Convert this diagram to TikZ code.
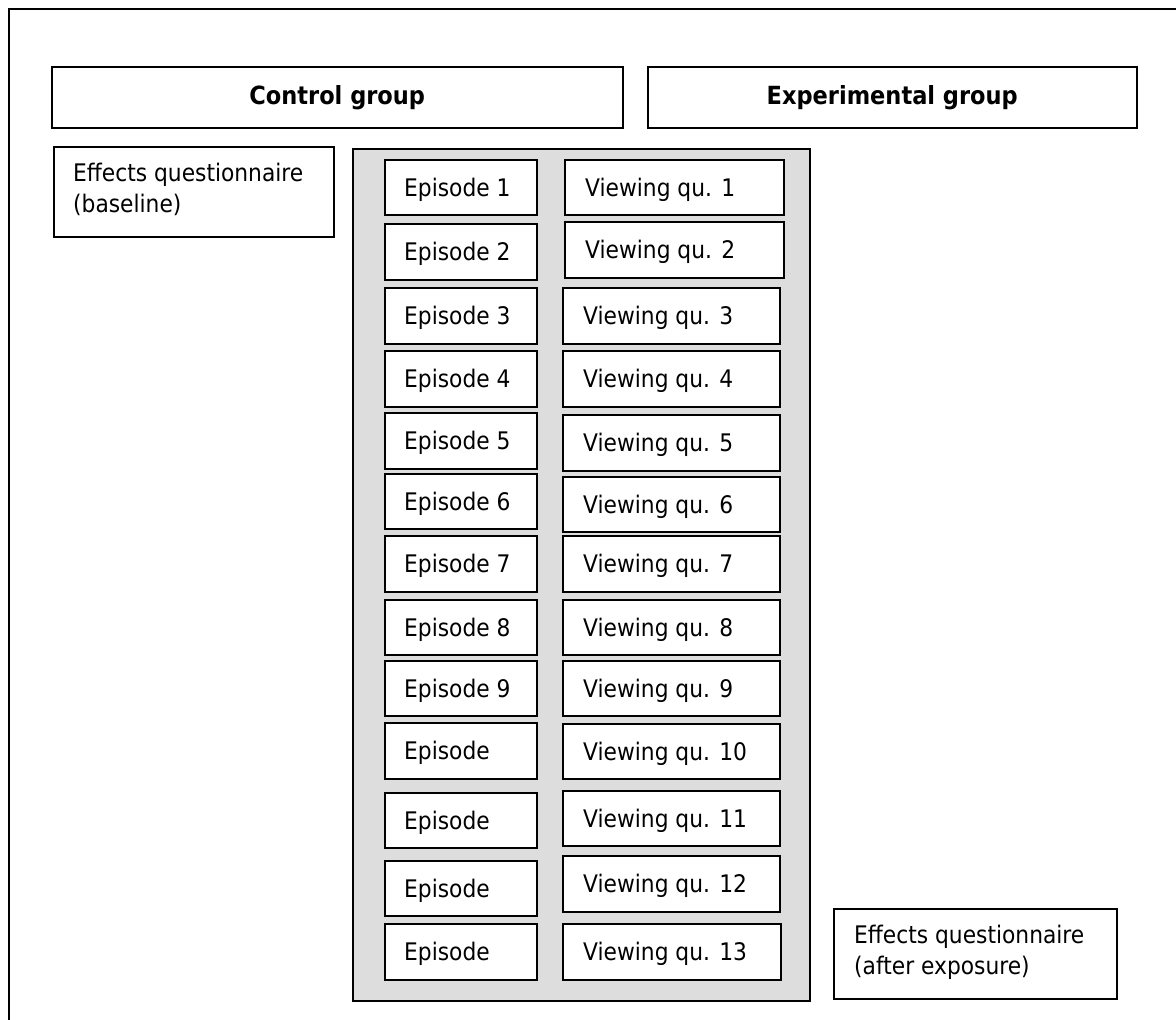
\documentclass[tikz,border=0pt]{standalone}
\usepackage{fontspec}
\setmainfont{DejaVu Sans}[FakeStretch=0.9]
\definecolor{panelgray}{RGB}{221,221,221}
\tikzset{
  frameline/.style={line width=1.6pt, line cap=rect},
  box/.style={draw, line width=1.5pt, fill=white, rectangle, inner sep=0pt, anchor=north west},
  panel/.style={draw, line width=1.5pt, fill=panelgray, rectangle, inner sep=0pt, anchor=north west},
  txt/.style={inner sep=0pt, font=\fontsize{24.2}{30.5}\selectfont, align=left},
  ttl/.style={font=\fontsize{25}{30}\selectfont\bfseries},
}
\begin{document}
\begin{tikzpicture}[x=1pt,y=-1pt]
\useasboundingbox (0,0) rectangle (1176,1020);
% outer frame (only top and left edges visible)
\coordinate (ftr) at (1176,9);
\coordinate (ftl) at (9,9);
\coordinate (fbl) at (9,1020);
\draw[frameline] (ftr) -- (ftl) -- (fbl);
% group headers
\node[box, ttl, minimum width=571, minimum height=61] (ctrl) at (51,66) {Control group};
\node[box, ttl, minimum width=489, minimum height=61] (expt) at (647,66) {Experimental group};
% baseline questionnaire
\node[box, minimum width=280, minimum height=90] (base) at (53,146) {};
\node[txt, anchor=north west] (baset) at (73,163) {Effects questionnaire\\(baseline)};
% grey panel
\node[panel, minimum width=457, minimum height=852] (pan) at (352,148) {};
% episodes and viewing questionnaires
\foreach \i/\et/\eh/\lab/\vl/\vw/\vt/\vh/\vlab in {
  1/159/55/Episode 1/564/219/159/55/Viewing qu. 1,
  2/223/56/Episode 2/564/219/221/56/Viewing qu. 2,
  3/287/56/Episode 3/562/217/287/56/Viewing qu. 3,
  4/350/56/Episode 4/562/217/350/56/Viewing qu. 4,
  5/412/56/Episode 5/562/217/414/56/Viewing qu. 5,
  6/473/55/Episode 6/562/217/476/55/Viewing qu. 6,
  7/535/56/Episode 7/562/217/535/56/Viewing qu. 7,
  8/599/55/Episode 8/562/217/599/55/Viewing qu. 8,
  9/660/55/Episode 9/562/217/660/55/Viewing qu. 9,
  10/722/56/Episode/562/217/723/55/Viewing qu. 10,
  11/792/55/Episode/562/217/790/55/Viewing qu. 11,
  12/860/55/Episode/562/217/855/56/Viewing qu. 12,
  13/923/56/Episode/562/218/923/56/Viewing qu. 13}
{
  \node[box, minimum width=152, minimum height=\eh] (ep\i) at (384,\et) {};
  \node[txt, anchor=base west] (ept\i) at ([xshift=20pt,yshift=-9pt]ep\i.west) {\lab};
  \node[box, minimum width=\vw, minimum height=\vh] (vq\i) at (\vl,\vt) {};
  \node[txt, anchor=base west] (vqt\i) at ([xshift=21pt,yshift=-9pt]vq\i.west) {\vlab};
}
% after-exposure questionnaire
\node[box, minimum width=283, minimum height=90] (after) at (833,908) {};
\node[txt, anchor=north west] (aftert) at (854,925) {Effects questionnaire\\(after exposure)};
\end{tikzpicture}
\end{document}
